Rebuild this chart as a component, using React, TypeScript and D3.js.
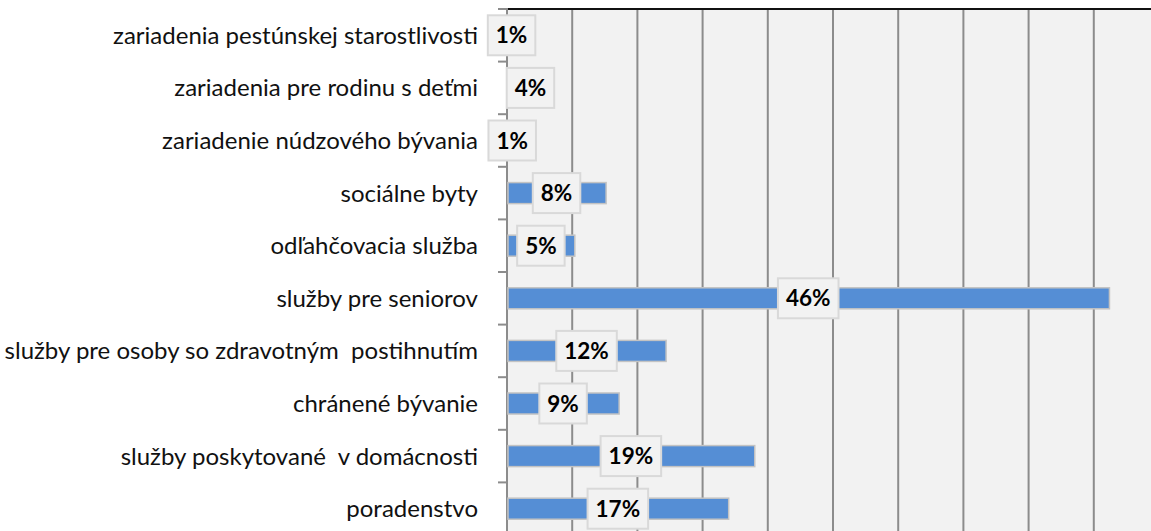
import React, { useEffect, useRef } from "react";
import * as d3 from "d3";

const categories = [
  "zariadenia pestúnskej starostlivosti",
  "zariadenia pre rodinu s deťmi",
  "zariadenie núdzového bývania",
  "sociálne byty",
  "odľahčovacia služba",
  "služby pre seniorov",
  "služby pre osoby so zdravotným  postihnutím",
  "chránené bývanie",
  "služby poskytované  v domácnosti",
  "poradenstvo",
];
const values = [0.7, 3.6, 0.8, 7.6, 5.2, 46.2, 12.2, 8.6, 19.0, 17.0];
const xTicks = [0, 5, 10, 15, 20, 25, 30, 35, 40, 45, 50];

const W = 1151;
const H = 531;

export default function App() {
  const ref = useRef<SVGSVGElement | null>(null);

  useEffect(() => {
    const svg = d3.select(ref.current);
    svg.selectAll("*").remove();

    const left = 507;
    const top = 9;
    const x = d3.scaleLinear().domain([0, 50]).range([left, left + 652]);
    const y = d3
      .scaleBand<string>()
      .domain(categories)
      .range([top, top + 526])
      .paddingInner(0.6)
      .paddingOuter(0.3);

    svg
      .append("rect")
      .attr("x", left)
      .attr("y", top)
      .attr("width", W - left)
      .attr("height", H - top)
      .attr("fill", "#f2f2f2");

    svg
      .append("g")
      .selectAll("line")
      .data(xTicks.filter((t) => t > 0))
      .join("line")
      .attr("x1", (d) => x(d))
      .attr("x2", (d) => x(d))
      .attr("y1", top)
      .attr("y2", H)
      .attr("stroke", "#8c8c8c")
      .attr("stroke-width", 2);

    svg
      .append("line")
      .attr("x1", left)
      .attr("x2", W)
      .attr("y1", top)
      .attr("y2", top)
      .attr("stroke", "#111")
      .attr("stroke-width", 2);

    svg
      .append("line")
      .attr("x1", left)
      .attr("x2", left)
      .attr("y1", top - 1)
      .attr("y2", H)
      .attr("stroke", "#8c8c8c")
      .attr("stroke-width", 2);

    const step = y.step();
    const boundaries = d3.range(categories.length + 1).map((i) => top + i * step);
    svg
      .append("g")
      .selectAll("line")
      .data(boundaries)
      .join("line")
      .attr("x1", left - 9)
      .attr("x2", left)
      .attr("y1", (d) => d)
      .attr("y2", (d) => d)
      .attr("stroke", "#8c8c8c")
      .attr("stroke-width", 2);

    svg
      .append("g")
      .selectAll("rect")
      .data(values)
      .join("rect")
      .attr("x", x(0) + 1)
      .attr("y", (_, i) => y(categories[i])!)
      .attr("width", (d) => Math.max(0, x(d) - x(0) - 1))
      .attr("height", y.bandwidth())
      .attr("fill", "#558ed5")
      .attr("stroke", "#c3c3c3")
      .attr("stroke-width", 1.5);

    svg
      .append("g")
      .selectAll("text")
      .data(categories)
      .join("text")
      .attr("x", left - 29)
      .attr("y", (d) => y(d)! + y.bandwidth() / 2)
      .attr("dy", "0.35em")
      .attr("text-anchor", "end")
      .attr("font-family", "Lato, 'Noto Sans', sans-serif")
      .attr("font-size", 24)
      .attr("fill", "#111")
      .style("white-space", "pre")
      .text((d) => d);

    const lg = svg.append("g");
    values.forEach((v, i) => {
      const cy = y(categories[i])! + y.bandwidth() / 2;
      const cx = (x(0) + x(v)) / 2;
      const g = lg.append("g");
      const rect = g.append("rect");
      const t = g
        .append("text")
        .attr("x", cx)
        .attr("y", cy)
        .attr("dy", "0.36em")
        .attr("text-anchor", "middle")
        .attr("font-family", "Lato, 'Noto Sans', sans-serif")
        .attr("font-weight", "bold")
        .attr("font-size", 22.5)
        .attr("fill", "#000")
        .text(`${Math.round(v)}%`);
      const tw = (t.node() as SVGTextElement).getComputedTextLength();
      const bw = tw + 16;
      rect
        .attr("x", cx - bw / 2)
        .attr("y", cy - 20)
        .attr("width", bw)
        .attr("height", 40)
        .attr("fill", "#f2f2f2")
        .attr("stroke", "#d9d9d9")
        .attr("stroke-width", 2);
    });
  }, []);

  return (
    <svg
      ref={ref}
      width={W}
      height={H}
      style={{ position: "absolute", left: 0, top: 0, background: "#fff" }}
    />
  );
}
